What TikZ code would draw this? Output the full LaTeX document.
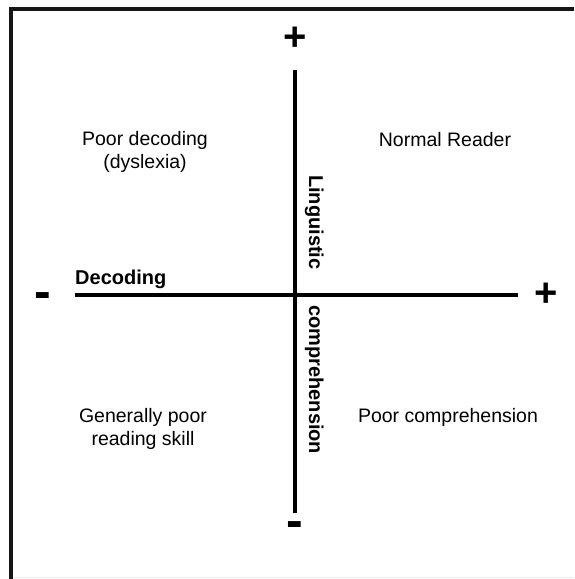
\documentclass[tikz,border=0pt]{standalone}
\usepackage{fontspec}
\setmainfont{Liberation Sans}

\begin{document}
\begin{tikzpicture}[x=1pt, y=-1pt]
    % Define picture size (1pt = 1px)
    \def\picW{574}
    \def\picH{579}

    \definecolor{frameColour}{HTML}{161616}
    \definecolor{axisColour}{HTML}{000000}

    \tikzset{
        quadrant/.style={align=center, inner sep=0pt, font=\fontsize{19.5}{23.5}\selectfont},
        axisname/.style={inner sep=0pt, font=\bfseries\fontsize{20}{24}\selectfont},
        plussign/.style={inner sep=0pt, font=\bfseries\fontsize{40}{44}\selectfont},
        minussign/.style={inner sep=0pt, anchor=base, font=\bfseries\fontsize{50}{54}\selectfont},
        axisline/.style={draw=axisColour, line width=3.5pt}
    }

    \useasboundingbox (0,0) rectangle (\picW,\picH);

    % Draw frame
    \draw[line width=4pt, frameColour] (11,\picH) -- (11,8.5) -- (\picW,8.5);
    \draw[line width=1pt, gray!15] (13,577.5) -- (\picW,577.5);

    % Define axis end points
    \coordinate (xMin) at (75,295);
    \coordinate (xMax) at (518,295);
    \coordinate (yMax) at (295,70);
    \coordinate (yMin) at (295,513);

    % Draw axes
    \draw[axisline] (xMin) -- (xMax);
    \draw[axisline] (yMax) -- (yMin);

    % Signs at the axis ends
    \node[plussign] (signTop) at (295,39) {+};
    \node[minussign] (signBottom) at (295,537) {-};
    \node[minussign] (signLeft) at (43,308) {-};
    \node[plussign] (signRight) at (546,295) {+};

    % Label x-axis and y-axis
    \node[axisname, anchor=base west] (decoding) at (75,284) {Decoding};
    \node[axisname, rotate=-90, anchor=base west] (linguistic) at (309,175) {Linguistic};
    \node[axisname, rotate=-90, anchor=base west] (comprehension) at (309,305) {comprehension};

    % Quadrant labels
    \node[quadrant] (poorDecoding) at (145,152) {Poor decoding\\(dyslexia)};
    \node[quadrant] (normalReader) at (445,140) {Normal Reader};
    \node[quadrant] (poorReading) at (143,429) {Generally poor\\reading skill};
    \node[quadrant] (poorComprehension) at (448,417) {Poor comprehension};

\end{tikzpicture}
\end{document}
